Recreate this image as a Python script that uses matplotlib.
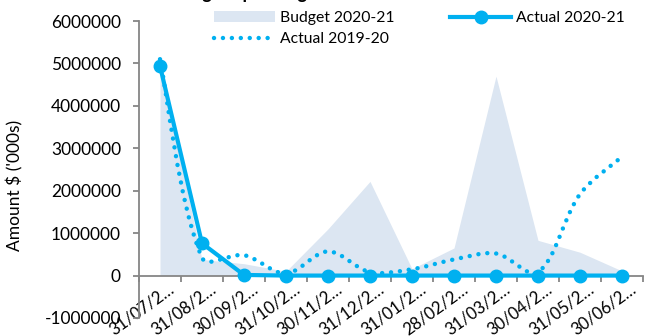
import numpy as np
import matplotlib
matplotlib.use("Agg")
import matplotlib.pyplot as plt
from matplotlib.path import Path
from matplotlib.patches import PathPatch
from matplotlib.lines import Line2D
from matplotlib.transforms import ScaledTranslation

# data
dates = ["31/07/2020", "31/08/2020", "30/09/2020", "31/10/2020", "30/11/2020", "31/12/2020",
         "31/01/2021", "28/02/2021", "31/03/2021", "30/04/2021", "31/05/2021", "30/06/2021"]
budget_2021 = [4950000, 380000, 280000, 100000, 1100000, 2220000,
               160000, 650000, 4700000, 830000, 550000, 110000]
actual_2021 = [4940000, 760000, 15000, 0, 0, 0, 0, 0, 0, 0, 0, 0]
actual_1920 = [5100000, 420000, 480000, 50000, 570000, 80000,
               150000, 380000, 520000, 80000, 1920000, 2800000]
labels = [d[:7] + "\u2026" for d in dates]

BLUE = "#00B0F0"
AREA = "#DCE6F2"
GREY = "#868686"

plt.rcParams['font.family'] = ['Lato', 'DejaVu Sans']


def smooth_path(xs, ys, s=1.0 / 3):
    # excel-like smoothed line: cubic bezier, handles scaled by segment length
    P = np.column_stack([xs, np.asarray(ys) / 1e6])
    n = len(P)
    ext = np.vstack([P[0], P, P[-1]])
    verts = [tuple(P[0])]
    codes = [Path.MOVETO]
    for i in range(n - 1):
        p0, p1, p2, p3 = ext[i], ext[i + 1], ext[i + 2], ext[i + 3]
        d01 = np.hypot(*(p1 - p0)); d12 = np.hypot(*(p2 - p1)); d23 = np.hypot(*(p3 - p2))
        t1 = p2 - p0
        t2 = p3 - p1
        c1 = p1 + t1 * s * d12 / max(d01 + d12, 1e-9) * (1 if d01 > 0 else 0.5)
        c2 = p2 - t2 * s * d12 / max(d12 + d23, 1e-9) * (1 if d23 > 0 else 0.5)
        verts += [tuple(c1), tuple(c2), tuple(p2)]
        codes += [Path.CURVE4] * 3
    v = np.array(verts)
    v[:, 1] *= 1e6
    return Path(v, codes)


fig = plt.figure(figsize=(6.46, 3.36), dpi=100)
ax = fig.add_axes([139 / 646, 1 - 318 / 336, 504 / 646, 297 / 336])

x = np.arange(len(dates))
ax.fill_between(x, 0, budget_2021, color=AREA, lw=0, zorder=1)

patch = PathPatch(smooth_path(x, actual_1920), fill=False, edgecolor=BLUE, lw=3.2,
                  linestyle=(0, (0.01, 2.0)), capstyle='round', zorder=3)
ax.add_patch(patch)

ax.plot(x, actual_2021, color=BLUE, lw=3, marker='o', ms=9, zorder=4, clip_on=False)

ax.set_xlim(-0.5, 11.5)
ax.set_ylim(-1000000, 6000000)
ax.set_yticks(np.arange(-1000000, 6000001, 1000000))
ax.yaxis.set_major_formatter(matplotlib.ticker.FuncFormatter(lambda v, p: f"{int(v)}"))

for sp in ["top", "right"]:
    ax.spines[sp].set_visible(False)
ax.spines["bottom"].set_position(("data", 0))
for sp in ["left", "bottom"]:
    ax.spines[sp].set_color(GREY)
    ax.spines[sp].set_linewidth(1.3)
    ax.spines[sp].set_zorder(2)

ax.set_xticks(x)
ax.set_xticklabels(labels, rotation=36, ha='right', va='baseline', rotation_mode='anchor')
ax.set_xticks(np.arange(-0.5, 12, 1), minor=True)
ax.tick_params(axis='x', which='major', length=0, pad=0, labelsize=12)
ax.tick_params(axis='x', which='minor', length=4.3, width=1.3, color=GREY, direction='out')
ax.tick_params(axis='y', length=4, width=1.3, color=GREY, pad=9, labelsize=12.5)
for lab in ax.get_xticklabels():
    lab.set_transform(lab.get_transform() + ScaledTranslation(0.15, -0.16, fig.dpi_scale_trans))

fig.text(15 / 646, 1 - 185 / 336, "Amount $ ('000s)", rotation=90, ha='center', va='center',
         fontsize=12.5)
fig.text(170 / 646, 1 + 0.5 / 336, "Budget Spending", fontsize=13, fontweight='bold',
         ha='left', va='baseline')

h_budget = matplotlib.patches.Patch(facecolor=AREA, edgecolor='none')
h_1920 = Line2D([], [], color=BLUE, lw=3.2, linestyle=(0, (0.01, 2.0)), dash_capstyle='round')
h_2021 = Line2D([], [], color=BLUE, lw=3, marker='o', ms=9)
fig.legend([h_budget, h_1920, h_2021], ["Budget 2020-21", "Actual 2019-20", "Actual 2020-21"],
           ncol=2, frameon=False, loc='upper left', bbox_to_anchor=(214 / 646, 1 - 11 / 336),
           fontsize=11.3, handlelength=3.9, handletextpad=0.3, columnspacing=3.55,
           labelspacing=0.45, borderpad=0, borderaxespad=0)

fig.savefig("out.png", dpi=100)
